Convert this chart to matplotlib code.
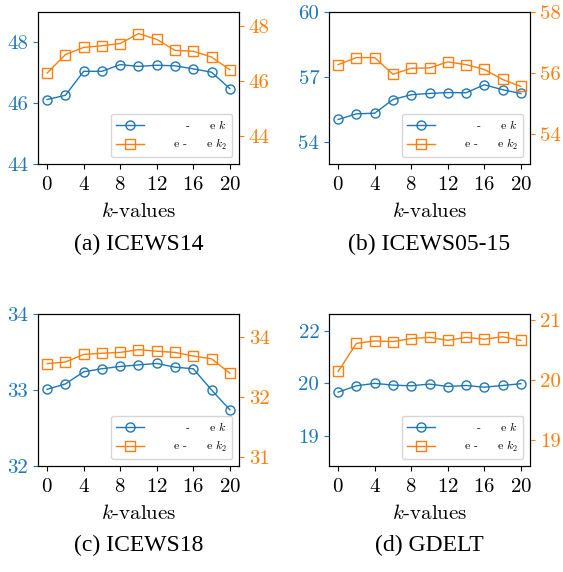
import matplotlib
matplotlib.use("Agg")
import matplotlib.pyplot as plt
from matplotlib.ticker import FormatStrFormatter

plt.rcParams['font.family'] = 'serif'
plt.rcParams['font.serif'] = ['cmr10']
plt.rcParams['mathtext.fontset'] = 'cm'
plt.rcParams['axes.formatter.use_mathtext'] = True

# k values shared by all panels
k_values = [0, 2, 4, 6, 8, 10, 12, 14, 16, 18, 20]

# ICEWS14
icews14_k = [46.12, 46.26, 47.05, 47.05, 47.27, 47.21, 47.25, 47.23, 47.13, 47.02, 46.48]
icews14_k2 = [46.29, 46.96, 47.22, 47.28, 47.36, 47.72, 47.51, 47.11, 47.08, 46.87, 46.41]

# ICEWS05-15
icews0515_k = [55.05, 55.31, 55.34, 55.97, 56.19, 56.25, 56.29, 56.28, 56.65, 56.42, 56.25]
icews0515_k2 = [56.27, 56.50, 56.50, 55.95, 56.15, 56.16, 56.36, 56.27, 56.11, 55.78, 55.55]

# ICEWS18
icews18_k = [33.01, 33.08, 33.24, 33.28, 33.31, 33.33, 33.35, 33.30, 33.28, 33.00, 32.74]
icews18_k2 = [33.33, 33.37, 33.56, 33.59, 33.61, 33.68, 33.64, 33.61, 33.52, 33.45, 33.09]

# GDELT
gdelt_k = [20.25, 20.43, 20.50, 20.45, 20.43, 20.48, 20.41, 20.44, 20.39, 20.44, 20.49]
gdelt_k2 = [20.14, 20.61, 20.65, 20.64, 20.69, 20.71, 20.66, 20.71, 20.68, 20.72, 20.66]

captions = ['(a) ICEWS14', '(b) ICEWS05-15', '(c) ICEWS18', '(d) GDELT']
label_k = '        -     e $k$'
label_k2 = '     e -     e $k_2$'

panels = [
    (icews14_k, icews14_k2, (44, 49), [44, 46, 48], (43, 48.5), [44, 46, 48]),
    (icews0515_k, icews0515_k2, (53, 60), [54, 57, 60], (53, 58), [54, 56, 58]),
    (icews18_k, icews18_k2, (32, 34), [32, 33, 34], (30.77, 34.57), [31, 32.5, 34]),
    (gdelt_k, gdelt_k2, (18.14, 22.48), [19, 20.5, 22], (18.56, 21.1), [19, 20, 21]),
]

# axes boxes in figure fraction
lefts = [0.0675, 0.5844, 0.0675, 0.5844]
bottoms = [0.7133, 0.7133, 0.1853, 0.1853]
w, h = 0.357, 0.2657
cap_y = [0.573, 0.573, 0.047, 0.047]

blue = 'tab:blue'
orange = 'tab:orange'

fig = plt.figure(figsize=(5.63, 5.72), dpi=100)

for i, (yk, yk2, lim1, t1, lim2, t2) in enumerate(panels):
    ax = fig.add_axes([lefts[i], bottoms[i], w, h])
    ax2 = ax.twinx()
    l1, = ax.plot(k_values, yk, marker='o', color=blue, mfc='none',
                  markersize=6.5, linewidth=1, label=label_k)
    l2, = ax2.plot(k_values, yk2, marker='s', color=orange, mfc='none',
                   markersize=6.5, linewidth=1, label=label_k2)
    ax.set_xlim(-1, 21)
    ax.set_xticks([0, 4, 8, 12, 16, 20])
    ax.set_ylim(*lim1)
    ax.set_yticks(t1)
    ax2.set_ylim(*lim2)
    ax2.set_yticks(t2)
    ax.yaxis.set_major_formatter(FormatStrFormatter('%.0f'))
    ax2.yaxis.set_major_formatter(FormatStrFormatter('%.0f'))
    ax.tick_params(axis='x', labelsize=15, pad=5)
    ax.tick_params(axis='y', colors=blue, labelsize=15)
    ax2.tick_params(axis='y', colors=orange, labelsize=15)
    ax.set_xlabel('$k$-values', fontsize=15, labelpad=6)
    ax2.legend([l1, l2], [label_k, label_k2], loc='lower right', fontsize=8.5,
               handlelength=2.4, borderaxespad=0.6)
    fig.text(lefts[i] + w / 2, cap_y[i], captions[i], ha='center', va='center',
             fontsize=17, family=['Liberation Serif', 'DejaVu Serif'])

fig.savefig('out.png', dpi=100)
